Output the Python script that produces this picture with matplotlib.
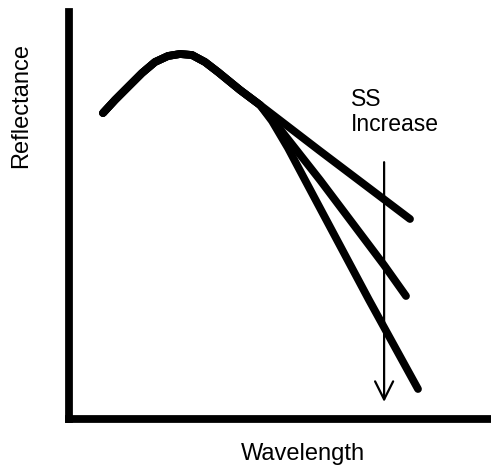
import matplotlib
matplotlib.use("Agg")
import matplotlib.pyplot as plt

plt.rcParams['font.family'] = ['Liberation Sans', 'DejaVu Sans']

# shared (rising + peak) part of the reflectance curve, arbitrary units 0-100
shared_x = [8.17, 11.01, 14.08, 17.40, 20.47, 23.55, 26.39, 29.23, 32.31, 35.38, 40.59, 45.33]
shared_y = [75.18, 78.38, 81.57, 85.01, 87.71, 89.19, 89.68, 89.43, 87.71, 85.26, 80.84, 77.15]

# three branches for increasing suspended sediment
low_x = [59.53, 80.83]
low_y = [65.85, 49.14]
mid_x = [49.11, 54.32, 59.53, 74.67, 79.88]
mid_y = [72.48, 65.60, 58.72, 37.84, 30.22]
high_x = [48.17, 51.95, 55.98, 71.13, 82.72]
high_y = [73.22, 66.58, 58.72, 29.24, 7.37]

arrow_x = 74.7
arrow_y_start = 63.1
arrow_y_end = 4.2

x_label = "Wavelength"
y_label = "Reflectance"
note = "SS\nIncrease"

W, H = 491, 467
fig = plt.figure(figsize=(W / 100, H / 100), dpi=100)
ax = fig.add_axes([68.5 / W, (H - 419) / H, (W - 68.5) / W, (419 - 12) / H])
ax.set_xlim(0, 100)
ax.set_ylim(0, 100)

lw = 5.6
for bx, by in [(low_x, low_y), (mid_x, mid_y), (high_x, high_y)]:
    ax.plot(shared_x + bx, shared_y + by, color='black', lw=lw,
            solid_capstyle='round', solid_joinstyle='round')

ax.annotate('', xy=(arrow_x, arrow_y_end), xytext=(arrow_x, arrow_y_start),
            arrowprops=dict(arrowstyle='->,head_length=1.3,head_width=0.65',
                            color='black', lw=1.6, shrinkA=0, shrinkB=0))

ax.text(66.8, 81.3, note, ha='left', va='top', fontsize=16.5, linespacing=1.12)

for s in ['top', 'right']:
    ax.spines[s].set_visible(False)
for s in ['left', 'bottom']:
    ax.spines[s].set_linewidth(lw)
    ax.spines[s].set_capstyle('projecting')
ax.set_xticks([])
ax.set_yticks([])

fig.text(303 / W, (H - 460) / H, x_label, ha='center', va='baseline', fontsize=17)
fig.text(21 / W, (H - 105) / H, y_label, ha='center', va='center', rotation=90, fontsize=17)

fig.savefig('out.png', dpi=100)
